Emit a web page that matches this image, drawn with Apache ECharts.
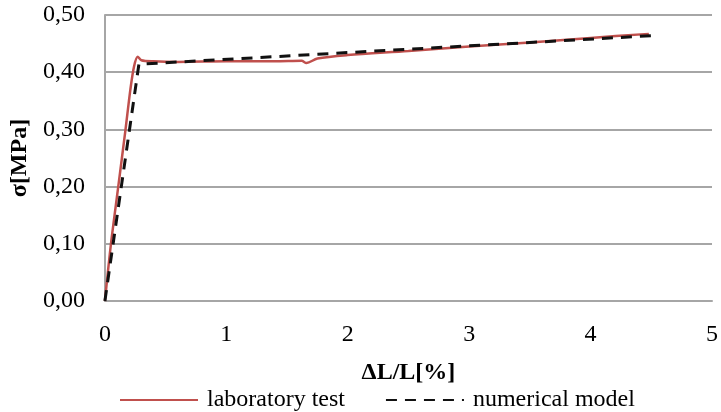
<!DOCTYPE html>
<html>
<head>
<meta charset="utf-8">
<script src="https://cdn.jsdelivr.net/npm/echarts@6/dist/echarts.min.js"></script>
<style>html,body{margin:0;padding:0;background:#fff}#c{width:721px;height:412px}</style>
</head>
<body>
<div id="c"></div>
<script>
// laboratory test
var labX = [0, 0.05, 0.11, 0.17, 0.21, 0.24, 0.27, 0.30, 0.40, 0.60, 1.00, 1.40, 1.62, 1.66, 1.75, 2.00, 2.50, 3.00, 3.50, 4.00, 4.48];
var labY = [0, 0.10, 0.20, 0.30, 0.37, 0.41, 0.427, 0.421, 0.419, 0.418, 0.419, 0.419, 0.420, 0.416, 0.424, 0.430, 0.437, 0.445, 0.452, 0.460, 0.467];
// numerical model
var numX = [0, 0.28, 4.52];
var numY = [0, 0.414, 0.464];
var xTicks = [0, 1, 2, 3, 4, 5];
var yTicks = [0, 0.1, 0.2, 0.3, 0.4, 0.5];

function pairs(xs, ys) { return xs.map(function (x, i) { return [x, ys[i]]; }); }
var font = 'Liberation Serif';
var chart = echarts.init(document.getElementById('c'), null, { renderer: 'canvas' });
chart.setOption({
  animation: false,
  backgroundColor: '#fff',
  grid: { left: 102, right: 9, top: 15, bottom: 111, containLabel: false },
  xAxis: {
    type: 'value', min: xTicks[0], max: xTicks[xTicks.length - 1], interval: 1,
    name: 'ΔL/L[%]', nameLocation: 'middle', nameGap: 60,
    nameTextStyle: { fontFamily: font, fontSize: 24, fontWeight: 'bold', color: '#000' },
    axisLine: { show: true, lineStyle: { color: '#A6A6A6', width: 2 } },
    axisTick: { show: false },
    splitLine: { show: false },
    axisLabel: { fontFamily: font, fontSize: 24, color: '#000', margin: 22 }
  },
  yAxis: {
    type: 'value', min: yTicks[0], max: yTicks[yTicks.length - 1], interval: 0.1,
    name: 'σ[MPa]', nameLocation: 'middle', nameGap: 71,
    nameTextStyle: { fontFamily: font, fontSize: 24, fontWeight: 'bold', color: '#000' },
    axisLine: { show: true, lineStyle: { color: '#A6A6A6', width: 2 } },
    axisTick: { show: false },
    splitLine: { show: true, lineStyle: { color: '#A6A6A6', width: 2 } },
    axisLabel: { fontFamily: font, fontSize: 24, color: '#000', margin: 20,
      formatter: function (v) { return v.toFixed(2).replace('.', ','); } }
  },
  legend: {
    top: 383, left: 114,
    itemWidth: 78, itemHeight: 14, itemGap: 40,
    itemStyle: { opacity: 0 },
    textStyle: { fontFamily: font, fontSize: 24, color: '#000', padding: [0, 0, 0, 4] },
    data: ['laboratory test', 'numerical model']
  },
  series: [
    { name: 'laboratory test', type: 'line', data: pairs(labX, labY), showSymbol: false, symbol: 'none',
      smooth: 0.3, lineStyle: { color: '#C0504D', width: 2.5 }, itemStyle: { color: '#C0504D' } },
    { name: 'numerical model', type: 'line', data: pairs(numX, numY), showSymbol: false, symbol: 'none',
      lineStyle: { color: '#111', width: 3, type: [11, 8] }, itemStyle: { color: '#111' } }
  ]
});
</script>
</body>
</html>
